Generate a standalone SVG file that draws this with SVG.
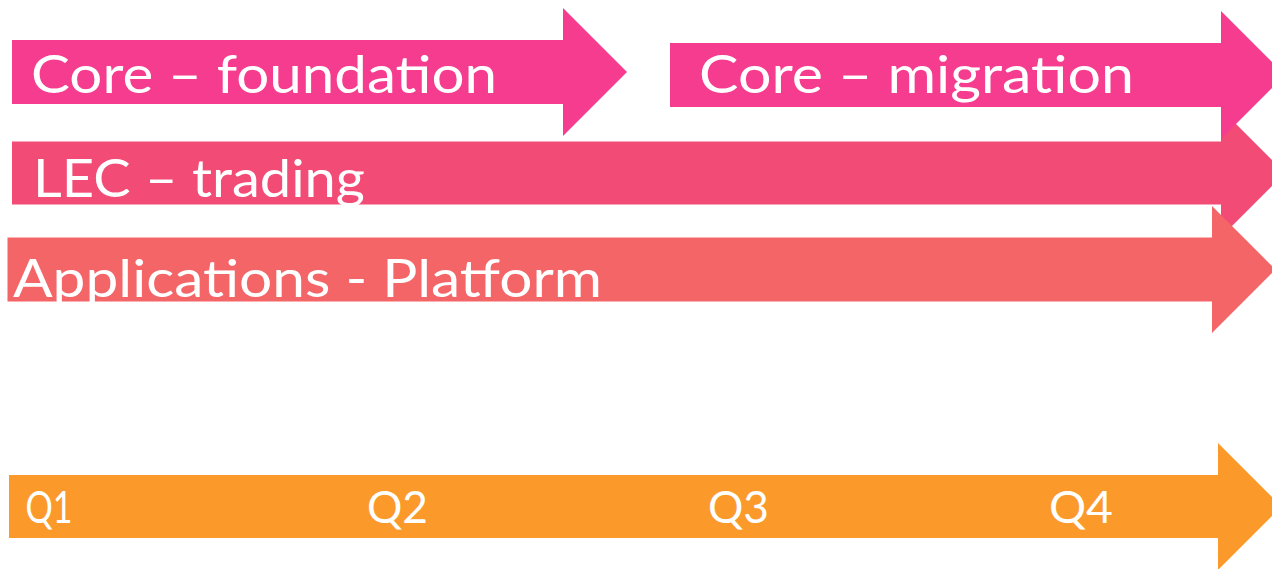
<svg xmlns="http://www.w3.org/2000/svg" width="1272" height="569" viewBox="0 0 1272 569">
  <style>
    .lbl { font-family: Lato, "Open Sans", "Liberation Sans", sans-serif; fill: #ffffff; font-size: 52px; }
    .q { font-family: Lato, "Open Sans", "Liberation Sans", sans-serif; fill: #ffffff; font-size: 45px; }
    .a1 { fill: #F53C8F; }
    .a3 { fill: #F24B76; }
    .a4 { fill: #F46568; }
    .tl { fill: #FB9A2B; }
  </style>
  <rect width="1272" height="569" fill="#ffffff"/>
  <g id="core-foundation">
    <polygon class="a1" points="12,40 563,40 563,8 627,72 563,136 563,104 12,104"/>
    <text class="lbl" x="31" y="93" textLength="466" lengthAdjust="spacingAndGlyphs">Core – foundation</text>
  </g>
  <g id="lec-trading">
    <polygon class="a3" points="12,141.5 1221,141.5 1221,109 1285,173 1221,237 1221,204.5 12,204.5"/>
    <text class="lbl" x="33" y="196.5" textLength="332" lengthAdjust="spacingAndGlyphs">LEC – trading</text>
  </g>
  <g id="core-migration">
    <polygon class="a1" points="670,43 1221,43 1221,11 1285,75 1221,139 1221,107 670,107"/>
    <text class="lbl" x="699" y="93" textLength="435" lengthAdjust="spacingAndGlyphs">Core – migration</text>
  </g>
  <g id="applications-platform">
    <polygon class="a4" points="7.5,237.5 1212,237.5 1212,206 1275.5,269.5 1212,333 1212,301.5 7.5,301.5"/>
    <text class="lbl" x="13" y="297" textLength="589" lengthAdjust="spacingAndGlyphs">Applications - Platform</text>
  </g>
  <g id="timeline">
    <polygon class="tl" points="9,475 1218,475 1218,443 1281.5,506.5 1218,570 1218,538 9,538"/>
    <text class="q" x="25.5" y="523" textLength="47" lengthAdjust="spacingAndGlyphs">Q1</text>
    <text class="q" x="367" y="523" textLength="61" lengthAdjust="spacingAndGlyphs">Q2</text>
    <text class="q" x="708" y="523" textLength="61" lengthAdjust="spacingAndGlyphs">Q3</text>
    <text class="q" x="1049" y="523" textLength="64" lengthAdjust="spacingAndGlyphs">Q4</text>
  </g>
  <g id="connectors"></g>
</svg>
